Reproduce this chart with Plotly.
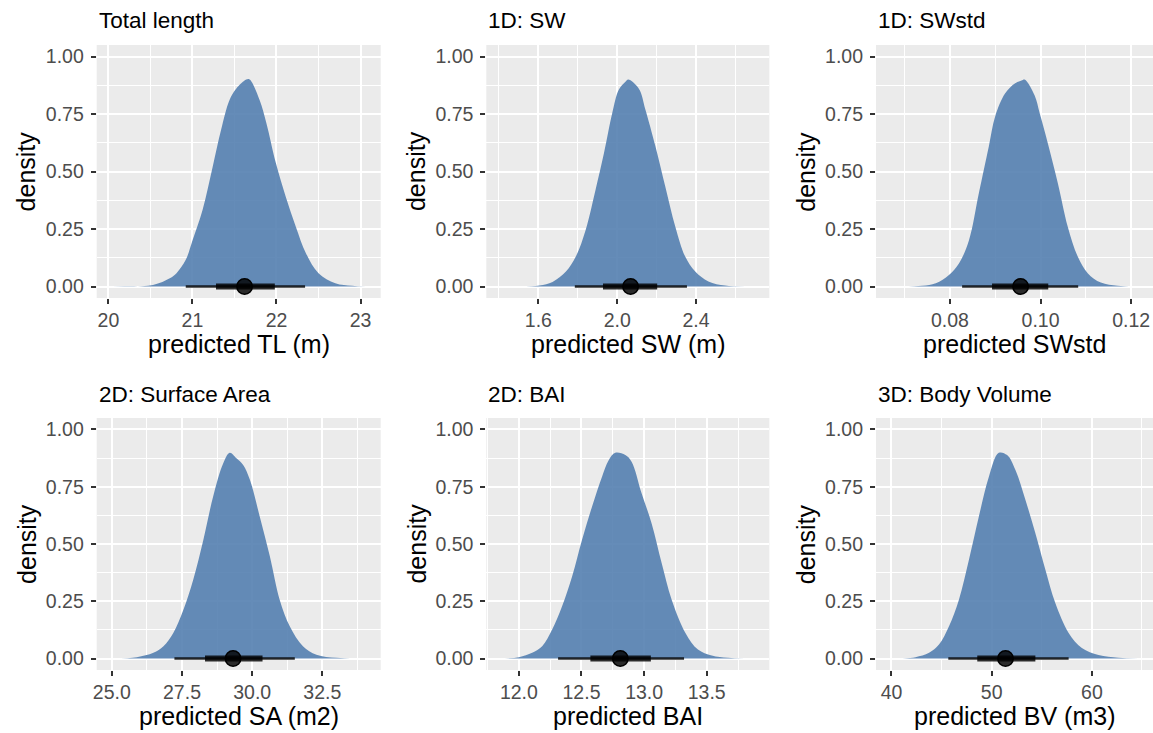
import plotly.graph_objects as go

W, H = 1153, 733

# ---------------- data ----------------
titles = ["Total length", "1D: SW", "1D: SWstd", "2D: Surface Area", "2D: BAI", "3D: Body Volume"]
x_titles = ["predicted TL (m)", "predicted SW (m)", "predicted SWstd",
            "predicted SA (m2)", "predicted BAI", "predicted BV (m3)"]

tl_x = [20.05, 20.53, 20.73, 20.81, 20.92, 21.00, 21.12, 21.24, 21.34, 21.44, 21.52, 21.64,
        21.68, 21.80, 21.88, 21.99, 22.11, 22.23, 22.35, 22.50, 22.70, 22.90, 23.06]
tl_d = [0.0, 0.007, 0.036, 0.058, 0.116, 0.20, 0.333, 0.52, 0.68, 0.81, 0.86, 0.90,
        0.90, 0.81, 0.71, 0.54, 0.39, 0.26, 0.145, 0.058, 0.014, 0.003, 0.0]

sw_x = [1.487, 1.605, 1.672, 1.74, 1.79, 1.84, 1.89, 1.933, 1.975, 2.008, 2.042, 2.056,
        2.11, 2.143, 2.194, 2.244, 2.295, 2.345, 2.396, 2.463, 2.548, 2.65]
sw_d = [0.0, 0.004, 0.02, 0.065, 0.13, 0.246, 0.42, 0.58, 0.754, 0.855, 0.89, 0.90,
        0.86, 0.77, 0.61, 0.435, 0.26, 0.13, 0.065, 0.022, 0.004, 0.0]

swstd_x = [0.0695, 0.0739, 0.0769, 0.0798, 0.0820, 0.0842, 0.0864, 0.0886, 0.0900, 0.0922,
           0.0944, 0.0958, 0.0965, 0.0987, 0.0998, 0.1016, 0.1038, 0.1060, 0.1082, 0.1104,
           0.1133, 0.1170, 0.1206]
swstd_d = [0.0, 0.003, 0.014, 0.05, 0.10, 0.20, 0.406, 0.61, 0.74, 0.84,
           0.884, 0.896, 0.90, 0.83, 0.754, 0.623, 0.45, 0.26, 0.13, 0.058,
           0.017, 0.003, 0.0]

sa_x = [25.06, 25.89, 26.48, 26.84, 27.19, 27.55, 27.90, 28.26, 28.61, 28.97, 29.20, 29.44,
        29.68, 29.92, 30.27, 30.63, 30.98, 31.34, 31.81, 32.29, 33.00, 33.71]
sa_d = [0.0, 0.006, 0.025, 0.054, 0.112, 0.213, 0.344, 0.518, 0.707, 0.852, 0.898, 0.874,
        0.845, 0.78, 0.62, 0.446, 0.257, 0.141, 0.054, 0.017, 0.003, 0.0]

bai_x = [11.84, 12.00, 12.106, 12.186, 12.265, 12.345, 12.425, 12.504, 12.584, 12.664, 12.717,
         12.77, 12.85, 12.90, 12.98, 13.06, 13.14, 13.22, 13.33, 13.43, 13.54, 13.67, 13.80]
bai_d = [0.0, 0.006, 0.025, 0.054, 0.126, 0.228, 0.358, 0.518, 0.663, 0.794, 0.866,
         0.898, 0.888, 0.859, 0.721, 0.59, 0.417, 0.257, 0.112, 0.039, 0.013, 0.003, 0.0]

bv_x = [41.1, 42.4, 43.75, 44.74, 45.74, 46.73, 47.73, 48.72, 49.72, 50.71, 51.54, 52.37,
        53.37, 54.36, 55.36, 56.35, 57.68, 59.0, 60.66, 62.65, 64.64]
bv_d = [0.0, 0.006, 0.025, 0.061, 0.141, 0.257, 0.431, 0.62, 0.794, 0.898, 0.888, 0.823,
        0.692, 0.547, 0.388, 0.242, 0.112, 0.046, 0.015, 0.003, 0.0]

slab_x = [tl_x, sw_x, swstd_x, sa_x, bai_x, bv_x]
slab_d = [tl_d, sw_d, swstd_d, sa_d, bai_d, bv_d]

medians = [21.62, 2.068, 0.0956, 29.32, 12.81, 51.38]
lo66 = [21.28, 1.928, 0.0893, 28.32, 12.571, 48.56]
hi66 = [21.98, 2.203, 0.1017, 30.37, 13.054, 54.36]
lo95 = [20.92, 1.785, 0.0827, 27.23, 12.313, 45.67]
hi95 = [22.34, 2.354, 0.1083, 31.52, 13.319, 57.68]

x_tickvals = [[20, 21, 22, 23], [1.6, 2.0, 2.4], [0.08, 0.10, 0.12],
              [25.0, 27.5, 30.0, 32.5], [12.0, 12.5, 13.0, 13.5], [40, 50, 60]]
x_ticktext = [["20", "21", "22", "23"], ["1.6", "2.0", "2.4"], ["0.08", "0.10", "0.12"],
              ["25.0", "27.5", "30.0", "32.5"], ["12.0", "12.5", "13.0", "13.5"], ["40", "50", "60"]]
x_minor_step = [0.5, 0.2, 0.01, 1.25, 0.25, 5]
x_ranges = [[19.86, 23.24], [1.336, 2.772], [0.0637, 0.1248],
            [24.46, 34.58], [11.74, 14.0], [38.45, 66.1]]
y_tickvals = [0, 0.25, 0.5, 0.75, 1.0]
y_ticktext = ["0.00", "0.25", "0.50", "0.75", "1.00"]

# ---------------- layout geometry (pixels) ----------------
col_px = [(93, 378), (484, 768), (875, 1153)]
row_px = [(45, 298), (418, 670)]

FONT = "Liberation Sans, Arial, Helvetica, sans-serif"
FILL = "rgba(80, 124, 174, 0.88)"
INK = "rgba(0, 0, 0, 0.82)"

fig = go.Figure()
annotations = []
layout = {}

for i in range(6):
    r, c = divmod(i, 3)
    ax = "" if i == 0 else str(i + 1)
    xa, ya = "x" + ax, "y" + ax
    x0, x1 = col_px[c]
    top, bot = row_px[r]
    xdom = [x0 / W, x1 / W]
    ydom = [1 - bot / H, 1 - top / H]

    fig.add_trace(go.Scatter(x=slab_x[i], y=slab_d[i], mode="lines", fill="tozeroy",
                             fillcolor=FILL, line=dict(width=0, shape="spline", smoothing=1.0),
                             xaxis=xa, yaxis=ya, hoverinfo="skip", showlegend=False))
    fig.add_trace(go.Scatter(x=[lo95[i], hi95[i]], y=[0, 0], mode="lines",
                             line=dict(color=INK, width=2.6), xaxis=xa, yaxis=ya,
                             showlegend=False))
    fig.add_trace(go.Scatter(x=[lo66[i], hi66[i]], y=[0, 0], mode="lines",
                             line=dict(color=INK, width=6), xaxis=xa, yaxis=ya,
                             showlegend=False))
    fig.add_trace(go.Scatter(x=[medians[i]], y=[0], mode="markers",
                             marker=dict(color=INK, size=15.5, line=dict(color="black", width=1.5)),
                             xaxis=xa, yaxis=ya, showlegend=False))

    layout["xaxis" + ax] = dict(
        domain=xdom, anchor=ya, range=x_ranges[i], tickmode="array",
        tickvals=x_tickvals[i], ticktext=x_ticktext[i],
        showgrid=True, gridcolor="white", gridwidth=1.8, zeroline=False, showline=False,
        ticks="outside", ticklen=5, tickwidth=1.6, tickcolor="#333333",
        tickfont=dict(family=FONT, size=19.5, color="#4D4D4D"),
        minor=dict(dtick=x_minor_step[i], tick0=0, showgrid=True, gridcolor="white",
                   gridwidth=0.9, ticks=""),
        fixedrange=True)
    layout["yaxis" + ax] = dict(
        domain=ydom, anchor=xa, range=[-0.05, 1.05], tickmode="array",
        tickvals=y_tickvals, ticktext=y_ticktext,
        showgrid=True, gridcolor="white", gridwidth=1.8, zeroline=False, showline=False,
        ticks="outside", ticklen=5, tickwidth=1.6, tickcolor="#333333",
        tickfont=dict(family=FONT, size=19.5, color="#4D4D4D"), ticklabelstandoff=3,
        minor=dict(dtick=0.125, tick0=0, showgrid=True, gridcolor="white",
                   gridwidth=0.9, ticks=""),
        fixedrange=True)

    # panel title
    annotations.append(dict(text=titles[i], x=x0 / W, y=1 - (top - 24) / H,
                            xref="paper", yref="paper", xanchor="left", yanchor="middle",
                            showarrow=False, font=dict(family=FONT, size=22.5, color="black")))
    # x axis title
    annotations.append(dict(text=x_titles[i], x=(x0 + x1) / 2 / W, y=1 - (bot + 46) / H,
                            xref="paper", yref="paper", xanchor="center", yanchor="middle",
                            showarrow=False, font=dict(family=FONT, size=25, color="black")))
    # y axis title
    annotations.append(dict(text="density", x=(x0 - 70) / W, y=1 - (top + bot) / 2 / H,
                            xref="paper", yref="paper", xanchor="center", yanchor="middle",
                            textangle=-90, showarrow=False,
                            font=dict(family=FONT, size=25, color="black")))

fig.update_layout(**layout)
fig.update_layout(width=W, height=H, margin=dict(l=0, r=0, t=0, b=0),
                  paper_bgcolor="white", plot_bgcolor="#EBEBEB",
                  annotations=annotations, showlegend=False,
                  font=dict(family=FONT))

fig.write_html("out.html", config={"displayModeBar": False},
               post_script="document.body.style.margin='0';")
